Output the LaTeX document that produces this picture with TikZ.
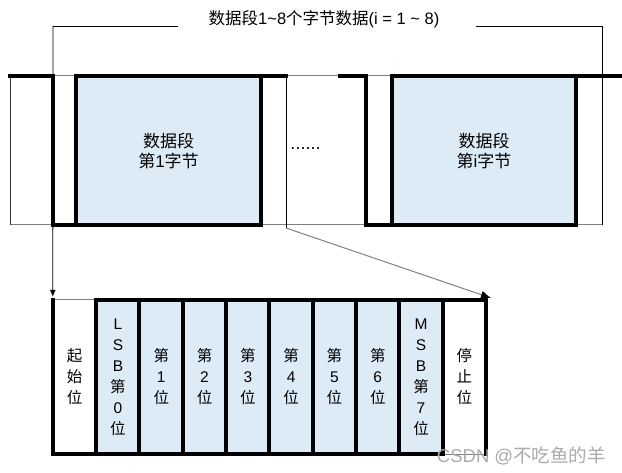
\documentclass[tikz,border=0pt]{standalone}
\usepackage{fontspec}
\setmainfont{Liberation Sans}
\newfontfamily\cjk{Noto Sans CJK SC}
\newcommand{\zh}[1]{{\cjk #1}}
\usetikzlibrary{arrows.meta}
\definecolor{bitblue}{RGB}{221,235,247}
\definecolor{edgegray}{RGB}{128,128,128}
\definecolor{wmgray}{RGB}{170,170,170}
\begin{document}
\begin{tikzpicture}[x=1pt,y=-1pt,
  wave/.style={line width=4pt, line cap=rect, line join=miter},
  thinl/.style={line width=1pt, edgegray},
  blk/.style={line width=0.8pt, black},
  bytebox/.style={fill=bitblue, draw=none, inner sep=0pt, minimum width=185pt, minimum height=149pt,
     align=center, font=\fontsize{17}{20}\selectfont},
  cell/.style={draw=none, inner sep=0pt, minimum width=43.3pt, minimum height=154pt,
     align=center, font=\fontsize{15.5}{21}\selectfont},
  lbl/.style={inner sep=0pt}
]
\useasboundingbox (0,0) rectangle (622,473);

% title and bracket
\node[lbl, font=\fontsize{16.5}{18}\selectfont] (title) at (324,19)
  {\zh{数据段}1\textasciitilde 8\zh{个字节数据}(i = 1 \textasciitilde{} 8)};
\coordinate (brL) at (53,26);
\coordinate (brR) at (602,26);
\draw[blk] (brL) -- (178,26);
\draw[blk] (476,26) -- (brR) -- (602,225);

% byte boxes
\node[bytebox] (byte1) at (168.5,150.5) {\zh{数据段}\\\zh{第}1\zh{字节}};
\node[bytebox] (bytei) at (484,150.5) {\zh{数据段}\\\zh{第}i\zh{字节}};
\node[lbl, font=\fontsize{18}{18}\selectfont] (dots) at (305.5,149) {......};

% thin outline of the line
\draw[thinl] (10,76) -- (602,76);
\draw[thinl] (10,225) -- (602,225);
\draw[line width=0.8pt, black!80] (10,76) -- (10,225);
\coordinate (gapstart) at (286,228);
\draw[blk] (286,76) -- (gapstart);

% waveform
\draw[wave] (10,76) -| (53,225) -| (261,76);
\draw[wave] (76,225) |- (286,76);
\draw[wave] (340,76) -| (366,225) -| (576,76);
\draw[wave] (392,225) |- (622,76);

% bits frame
\foreach \i/\t in {
  0/{\zh{起}\\\zh{始}\\\zh{位}},
  1/{L\\S\\B\\\zh{第}\\0\\\zh{位}},
  2/{\zh{第}\\1\\\zh{位}},
  3/{\zh{第}\\2\\\zh{位}},
  4/{\zh{第}\\3\\\zh{位}},
  5/{\zh{第}\\4\\\zh{位}},
  6/{\zh{第}\\5\\\zh{位}},
  7/{\zh{第}\\6\\\zh{位}},
  8/{M\\S\\B\\\zh{第}\\7\\\zh{位}},
  9/{\zh{停}\\\zh{止}\\\zh{位}}}{
  \ifnum\i=0 \def\fc{white}\else\ifnum\i=9 \def\fc{white}\else\def\fc{bitblue}\fi\fi
  \node[cell, fill=\fc] (c\i) at ({53+43.3*(\i+0.5)},377) {\t};
}
\draw[thinl] (c0.north west) -- (c0.north east);
\draw[thinl] (c8.south east) -- (c9.south east);
\draw[wave] (c1.north west) -- (c9.north east);
\draw[wave] (c0.south west) -- (c8.south east);
\foreach \i in {0,...,9}{
  \draw[wave] (c\i.north west) -- (c\i.south west);
}
\draw[wave] (c9.north east) -- (c9.south east);

% connectors
\coordinate (tipR) at (491,298);
\draw[thinl, -{Latex[black,length=10pt,width=8pt]}] (gapstart) -- (tipR);
\draw[blk, -{Latex[length=7pt,width=6pt]}] (brL) -- ([yshift=3pt]c0.north west);

% watermark
\node[lbl, text=wmgray, font=\fontsize{18.5}{18}\selectfont, anchor=east] (wm) at (606,456)
  {CSDN @\zh{不吃鱼的羊}};
\end{tikzpicture}
\end{document}
